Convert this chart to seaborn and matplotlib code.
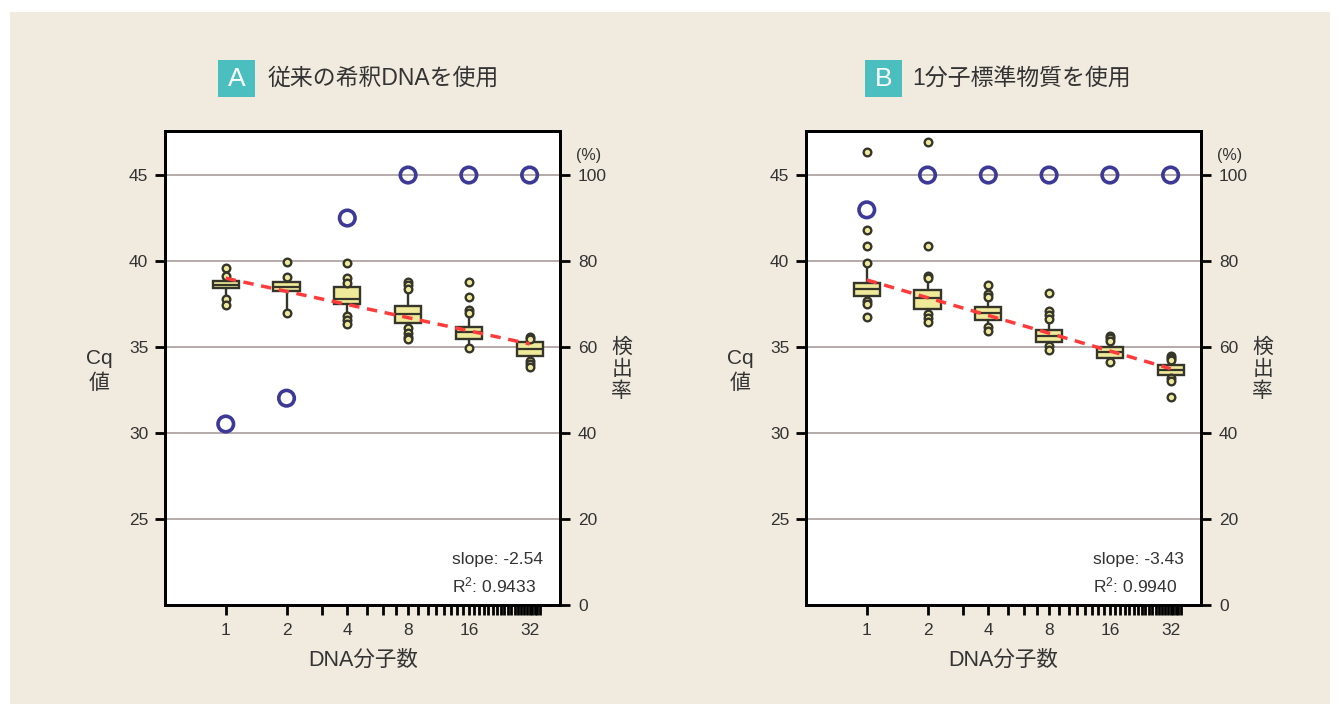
import numpy as np
import matplotlib
matplotlib.use("Agg")
import matplotlib.pyplot as plt
import seaborn as sns
import pandas as pd
from matplotlib.patches import Rectangle
from matplotlib.ticker import FixedLocator, NullFormatter

# ---------------- data ----------------
counts = [1, 2, 4, 8, 16, 32]
count_labels = ["1", "2", "4", "8", "16", "32"]

A_q1 = [38.41, 38.26, 37.50, 36.41, 35.45, 34.50]
A_med = [38.62, 38.47, 37.77, 36.90, 35.89, 34.87]
A_q3 = [38.84, 38.76, 38.51, 37.40, 36.18, 35.27]
A_whislo = [37.44, 36.96, 36.34, 35.45, 34.96, 33.85]
A_whishi = [39.58, 39.09, 39.00, 38.80, 37.15, 35.60]
A_fliers = [[39.58, 39.15, 37.77, 37.44],
            [39.96, 39.09, 36.96],
            [39.87, 39.00, 38.74, 36.82, 36.57, 36.34],
            [38.80, 38.60, 38.35, 36.08, 35.80, 35.60, 35.45],
            [38.76, 37.89, 37.15, 37.00, 34.96],
            [35.60, 35.47, 34.20, 34.00, 33.85]]
A_det = [42.1, 48.1, 90.0, 100.0, 100.0, 100.0]
A_fit = [39.0, 35.18]
A_slope = "-2.54"
A_r2 = "0.9433"

B_q1 = [37.98, 37.21, 36.57, 35.29, 34.38, 33.37]
B_med = [38.35, 37.87, 36.99, 35.66, 34.69, 33.66]
B_q3 = [38.70, 38.31, 37.31, 35.97, 34.98, 33.95]
B_whislo = [37.50, 36.67, 35.93, 34.83, 34.11, 33.20]
B_whishi = [39.90, 39.13, 38.08, 36.63, 35.66, 34.50]
B_fliers = [[46.34, 41.80, 40.85, 39.90, 37.69, 37.50, 36.76],
            [46.94, 40.89, 39.13, 39.00, 36.90, 36.67, 36.44],
            [38.60, 38.08, 37.92, 36.18, 35.93],
            [38.12, 37.09, 36.86, 36.63, 35.06, 34.83],
            [35.66, 35.50, 35.37, 34.11],
            [34.50, 34.34, 34.24, 33.20, 33.00, 32.09]]
B_det = [91.9, 100.0, 100.0, 100.0, 100.0, 100.0]
B_fit = [38.9, 33.74]
B_slope = "-3.43"
B_r2 = "0.9940"

titles = ["従来の希釈DNAを使用", "1分子標準物質を使用"]
letters = ["A", "B"]
xlabel = "DNA分子数"
ylabel_left = ["Cq", "値"]
ylabel_right = "検出率"
left_ticks = [25, 30, 35, 40, 45]
right_ticks = [0, 20, 40, 60, 80, 100]

# ---------------- style ----------------
sns.set_theme(style="white")
plt.rcParams['font.family'] = ['Liberation Sans', 'Noto Sans CJK JP', 'DejaVu Sans']
plt.rcParams['mathtext.fontset'] = 'custom'
plt.rcParams['mathtext.rm'] = 'Liberation Sans'
plt.rcParams['mathtext.it'] = 'Liberation Sans'
BG = "#f1ebdf"
TEXT = "#333333"
TEAL = "#4bbfc0"
BOXFILL = "#efe99a"
EDGE = "#35352a"
CIRC = "#3c3a96"
GRID = "#b0a4a4"
CJK = ['Noto Sans CJK JP', 'DejaVu Sans']

fig = plt.figure(figsize=(13.4, 7.04), dpi=100)
fig.patch.set_facecolor("white")
fig.add_artist(Rectangle((10 / 1340, 0), 1320 / 1340, 1 - 12 / 704,
                         transform=fig.transFigure, facecolor=BG,
                         edgecolor="none", zorder=-10))

YLO, YHI = 20.0, 47.56
XLO, XHI = -1.0, 5.5

panels = [
    dict(left=165, q1=A_q1, med=A_med, q3=A_q3, wlo=A_whislo, whi=A_whishi,
         fl=A_fliers, det=A_det, fit=A_fit, slope=A_slope, r2=A_r2,
         box=218, txt=268, xc=363),
    dict(left=806, q1=B_q1, med=B_med, q3=B_q3, wlo=B_whislo, whi=B_whishi,
         fl=B_fliers, det=B_det, fit=B_fit, slope=B_slope, r2=B_r2,
         box=865, txt=912, xc=1003),
]

pos = np.log2(counts)
minor = [np.log2(k) for k in range(3, 37) if k not in counts]

for i, p in enumerate(panels):
    ax = fig.add_axes([p["left"] / 1340, 1 - 605 / 704, 395 / 1340, 474 / 704])
    ax.set_facecolor("white")
    stats = []
    for j in range(len(counts)):
        stats.append(dict(med=p["med"][j], q1=p["q1"][j], q3=p["q3"][j],
                          whislo=p["wlo"][j], whishi=p["whi"][j],
                          fliers=p["fl"][j]))
    ax.bxp(stats, positions=pos, widths=0.43, patch_artist=True,
           showcaps=False,
           boxprops=dict(facecolor=BOXFILL, edgecolor=EDGE, linewidth=1.7),
           medianprops=dict(color=EDGE, linewidth=1.6),
           whiskerprops=dict(color=EDGE, linewidth=1.7),
           flierprops=dict(marker="o", markersize=5.5, markerfacecolor=BOXFILL,
                           markeredgecolor=EDGE, markeredgewidth=1.7),
           zorder=3)
    fit_df = pd.DataFrame({"x": [pos[0], pos[-1]], "y": p["fit"]})
    sns.lineplot(data=fit_df, x="x", y="y", ax=ax, color="#ff3b3b",
                 linewidth=2.5, linestyle=(0, (3, 2.2)), zorder=4)
    ax.set_xlabel("")
    ax.set_ylabel("")
    ax.set_xlim(XLO, XHI)
    ax.set_ylim(YLO, YHI)
    for t in left_ticks:
        ax.axhline(t, color=GRID, linewidth=1.3, zorder=1)
    ax.set_yticks(left_ticks)
    ax.set_yticklabels([str(t) for t in left_ticks], color=TEXT, fontsize=12.5)
    ax.xaxis.set_major_locator(FixedLocator(pos))
    ax.set_xticklabels(count_labels, color=TEXT, fontsize=12.5)
    ax.xaxis.set_minor_locator(FixedLocator(minor))
    ax.xaxis.set_minor_formatter(NullFormatter())
    ax.tick_params(axis="x", which="both", direction="out", length=7, width=2,
                   color="black", bottom=True, pad=6)
    ax.tick_params(axis="y", which="both", direction="out", length=7, width=2,
                   color="black", left=True, pad=5)
    for s in ax.spines.values():
        s.set_color("black")
        s.set_linewidth(2)

    ax2 = ax.twinx()
    ax2.set_ylim(0, 100 * (YHI - YLO) / 25)
    det_df = pd.DataFrame({"x": pos, "d": p["det"]})
    sns.scatterplot(data=det_df, x="x", y="d", ax=ax2, s=125,
                    facecolor="none", edgecolor=CIRC, linewidth=2.6,
                    zorder=5)
    ax2.set_ylabel("")
    ax2.set_xlim(XLO, XHI)
    ax2.set_yticks(right_ticks)
    ax2.set_yticklabels([str(t) for t in right_ticks], color=TEXT, fontsize=12.5)
    ax2.tick_params(axis="y", direction="out", length=7, width=2,
                    color="black", right=True, pad=6)
    for s in ax2.spines.values():
        s.set_color("black")
        s.set_linewidth(2)

    ax.text(0.727, 0.095, f"slope: {p['slope']}", transform=ax.transAxes,
            ha="left", va="center", fontsize=12.5, color=TEXT)
    ax.text(0.727, 0.042, f"R$^2$: {p['r2']}", transform=ax.transAxes,
            ha="left", va="center", fontsize=12.5, color=TEXT)
    ax2.text(1.04, 0.949, "(%)", transform=ax.transAxes, ha="left",
             va="center", fontsize=11.5, color=TEXT)
    # right vertical label: one character per line
    for k, ch in enumerate(ylabel_right):
        ax.text(1.156, 0.545 - k * 0.047, ch, transform=ax.transAxes,
                ha="center", va="center", fontsize=15, color=TEXT, family=CJK)
    # left label: two lines
    ax.text(-0.166, 0.52, ylabel_left[0], transform=ax.transAxes,
            ha="center", va="center", fontsize=15, color=TEXT)
    ax.text(-0.166, 0.468, ylabel_left[1], transform=ax.transAxes,
            ha="center", va="center", fontsize=15, color=TEXT, family=CJK)

    # header
    fig.add_artist(Rectangle((p["box"] / 1340, 1 - 97 / 704), 37 / 1340, 37 / 704,
                             transform=fig.transFigure, facecolor=TEAL,
                             edgecolor="none"))
    fig.text((p["box"] + 18.5) / 1340, 1 - 79 / 704, letters[i], ha="center",
             va="center", fontsize=19, color="white")
    fig.text(p["txt"] / 1340, 1 - 78 / 704, titles[i], ha="left", va="center",
             fontsize=16.5, color=TEXT)
    fig.text(p["xc"] / 1340, 1 - 660 / 704, xlabel, ha="center", va="center",
             fontsize=15.5, color=TEXT)

fig.savefig("out.png", dpi=100, facecolor=fig.get_facecolor())
